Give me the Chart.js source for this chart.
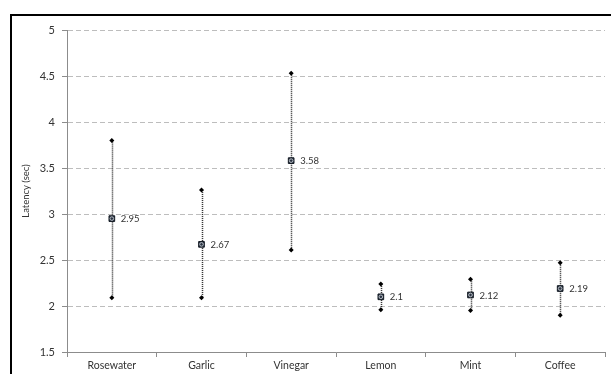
<!DOCTYPE html>
<html><head><meta charset="utf-8">
<script src="https://cdn.jsdelivr.net/npm/chart.js@4/dist/chart.umd.min.js"></script>
<style>
html,body{margin:0;padding:0;background:#fff;overflow:hidden;}
#wrap{position:absolute;left:0;top:0;width:611px;height:374px;overflow:hidden;}
#frame{position:absolute;left:10px;top:14px;width:620px;height:420px;border:2px solid #000;box-sizing:border-box;}
canvas{position:absolute;left:0;top:0;}
</style></head>
<body>
<div id="wrap"><div id="frame"></div><canvas id="c" width="611" height="374"></canvas></div>
<script>
const categories = ['Rosewater', 'Garlic', 'Vinegar', 'Lemon', 'Mint', 'Coffee'];
const means = [2.95, 2.67, 3.58, 2.1, 2.12, 2.19];
const upper = [3.8, 3.26, 4.53, 2.24, 2.29, 2.47];
const lower = [2.09, 2.09, 2.61, 1.96, 1.95, 1.90];
const meanLabels = ['2.95', '2.67', '3.58', '2.1', '2.12', '2.19'];
const yMin = 1.5, yMax = 5, yStep = 0.5;
const yTitle = 'Latency (sec)';

const FONT = 'Lato, "Open Sans", sans-serif';

const errorBars = {
  id: 'errorBars',
  beforeDatasetsDraw(chart) {
    const {ctx, scales: {x, y}} = chart;
    ctx.save();
    ctx.strokeStyle = '#2a2a2a';
    ctx.lineWidth = 1.5;
    ctx.setLineDash([1, 1]);
    categories.forEach((c, i) => {
      const px = Math.round(x.getPixelForValue(i)) + 0.5;
      ctx.beginPath();
      ctx.moveTo(px, y.getPixelForValue(upper[i]));
      ctx.lineTo(px, y.getPixelForValue(lower[i]));
      ctx.stroke();
    });
    ctx.restore();
  },
  afterDatasetsDraw(chart) {
    const {ctx, scales: {x, y}} = chart;
    ctx.save();
    ctx.fillStyle = '#333';
    ctx.font = '9.5px ' + FONT;
    ctx.textBaseline = 'middle';
    ctx.textAlign = 'left';
    categories.forEach((c, i) => {
      ctx.fillText(meanLabels[i], x.getPixelForValue(i) + 9, y.getPixelForValue(means[i]) + 0.5);
    });
    ctx.restore();
  }
};

new Chart(document.getElementById('c'), {
  type: 'line',
  data: {
    labels: categories,
    datasets: [
      {data: means, showLine: false, pointStyle: 'circle', pointRadius: 1.8, backgroundColor: 'rgba(0,0,0,0)', borderColor: '#b8bec6', borderWidth: 1},
      {data: means, showLine: false, pointStyle: 'rect', pointRadius: 4, backgroundColor: '#2b3442', borderColor: '#111821', borderWidth: 1},
      {data: upper, showLine: false, pointStyle: 'rectRot', pointRadius: 2.5, backgroundColor: '#000', borderColor: '#000', borderWidth: 0},
      {data: lower, showLine: false, pointStyle: 'rectRot', pointRadius: 2.5, backgroundColor: '#000', borderColor: '#000', borderWidth: 0}
    ]
  },
  options: {
    responsive: false,
    animation: false,
    events: [],
    layout: {padding: {left: 0, right: 6, top: 30, bottom: 0}},
    plugins: {legend: {display: false}, tooltip: {enabled: false}},
    scales: {
      x: {
        type: 'category',
        offset: true,
        grid: {display: true, drawOnChartArea: false, drawTicks: true, tickLength: 5, offset: true, color: '#8c8c8c', lineWidth: 1},
        border: {display: true, color: '#8c8c8c', width: 1},
        ticks: {color: '#333', font: {family: FONT, size: 10.5}, padding: 2, maxRotation: 0, autoSkip: false},
        afterFit(s) { s.height = 22; }
      },
      y: {
        type: 'linear',
        min: yMin, max: yMax,
        grid: {display: true, drawOnChartArea: true, drawTicks: true, tickLength: 5, color: '#bdbdbd', lineWidth: 1, tickColor: '#8c8c8c', tickBorderDash: []},
        border: {display: true, color: '#8c8c8c', width: 1, dash: [5, 3]},
        ticks: {stepSize: yStep, color: '#333', font: {family: FONT, size: 11}, padding: 7, callback: v => String(v)},
        title: {display: true, text: yTitle, color: '#333', font: {family: FONT, size: 9.5}, padding: {top: 20, bottom: 0}},
        afterFit(s) { s.width = 67; }
      }
    }
  },
  plugins: [errorBars]
});
</script>
</body></html>
